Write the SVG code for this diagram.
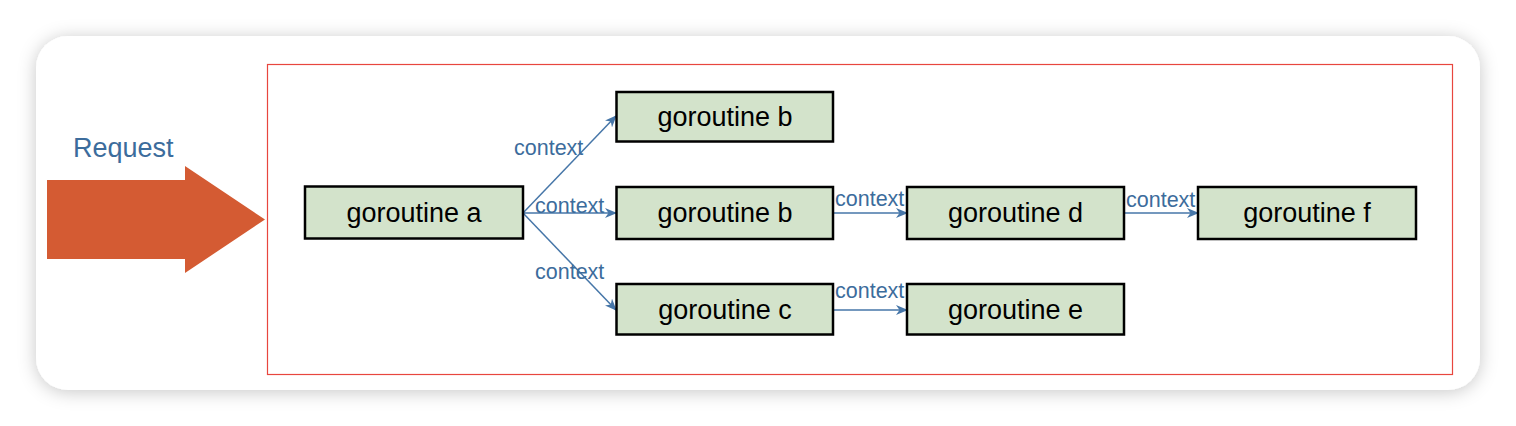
<svg xmlns="http://www.w3.org/2000/svg" width="1516" height="426" viewBox="0 0 1516 426">
<defs>
<filter id="sh" x="-10%" y="-20%" width="120%" height="140%">
<feDropShadow dx="0" dy="2" stdDeviation="9" flood-color="#000" flood-opacity="0.22"/>
</filter>
<marker id="ah" markerWidth="12" markerHeight="10" refX="11" refY="5" orient="auto" markerUnits="userSpaceOnUse">
<path d="M0,0 L12,5 L0,10 L3.5,5 z" fill="#4676a8"/>
</marker>
<style>
.node rect{fill:#d3e3cb;stroke:#000;stroke-width:2.5}
.node text{font-family:"Liberation Sans",Arial,sans-serif;font-size:27px;fill:#000;text-anchor:middle}
.lbl{font-family:"Liberation Sans",Arial,sans-serif;font-size:21.5px;fill:#3c6c9c}
#connectors line{stroke:#4676a8;stroke-width:1.5;marker-end:url(#ah)}
</style>
</defs>
<rect width="1516" height="426" fill="#ffffff"/>
<rect x="36" y="36" width="1444" height="354" rx="32" fill="#ffffff" filter="url(#sh)"/>
<rect x="267.5" y="64.5" width="1185" height="310" fill="none" stroke="#e8463e" stroke-width="1.2"/>
<g id="request">
<polygon points="47,180 185,180 185,166 265,219.5 185,273 185,259 47,259" fill="#d45b33"/>
<text x="73" y="157" font-family="'Liberation Sans',Arial,sans-serif" font-size="27" fill="#3c6c9c">Request</text>
</g>
<g id="connectors">
<line x1="523" y1="213" x2="616" y2="116"/>
<line x1="523" y1="213" x2="616" y2="213"/>
<line x1="523" y1="213" x2="616" y2="310"/>
<line x1="833" y1="213" x2="907" y2="213"/>
<line x1="833" y1="310" x2="907" y2="310"/>
<line x1="1124" y1="213" x2="1198" y2="213"/>
<text class="lbl" x="514" y="155">context</text>
<text class="lbl" x="535" y="213">context</text>
<text class="lbl" x="535" y="279">context</text>
<text class="lbl" x="835" y="206">context</text>
<text class="lbl" x="835" y="298">context</text>
<text class="lbl" x="1126" y="207">context</text>
</g>
<g id="node-a" class="node"><rect x="305" y="186.5" width="218" height="52"/><text x="414" y="222">goroutine a</text></g>
<g id="node-b1" class="node"><rect x="616.5" y="92" width="216.5" height="49.5"/><text x="725" y="126">goroutine b</text></g>
<g id="node-b2" class="node"><rect x="616.5" y="187" width="216.5" height="52"/><text x="725" y="222">goroutine b</text></g>
<g id="node-c" class="node"><rect x="616.5" y="284" width="216.5" height="50.5"/><text x="725" y="319">goroutine c</text></g>
<g id="node-d" class="node"><rect x="907" y="187" width="217" height="52"/><text x="1015.5" y="222">goroutine d</text></g>
<g id="node-e" class="node"><rect x="907" y="284" width="217" height="50.5"/><text x="1015.5" y="319">goroutine e</text></g>
<g id="node-f" class="node"><rect x="1198" y="187" width="218" height="52"/><text x="1307" y="222">goroutine f</text></g>
</svg>
